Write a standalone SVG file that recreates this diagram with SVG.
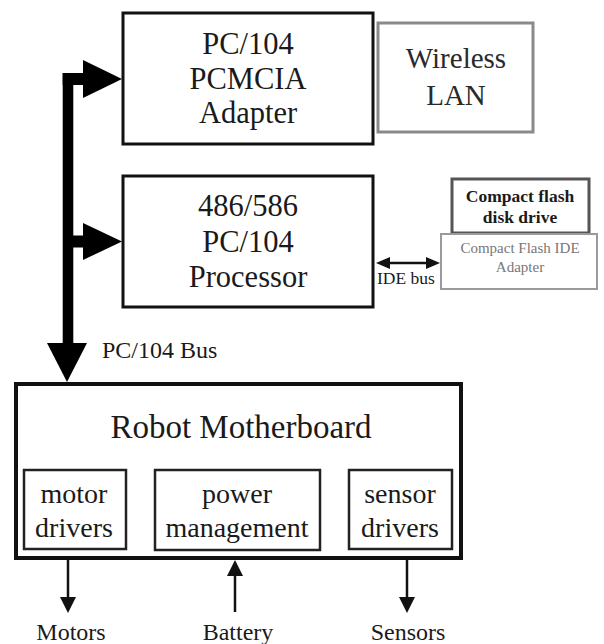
<svg xmlns="http://www.w3.org/2000/svg" width="604" height="644" viewBox="0 0 604 644">
<style>
  .box { fill: #fff; stroke: #111; stroke-width: 3; }
  .gbox { fill: #fff; stroke: #8a8a8a; stroke-width: 3; }
  .sub { fill: #fff; stroke: #222; stroke-width: 2.5; }
  .t { font-family: "Liberation Serif", "Times New Roman", serif; fill: #1a1a1a; text-anchor: middle; }
  .big { font-size: 30.5px; }
  .mid { font-size: 28px; }
  .lbl { font-size: 24px; }
  .ln { stroke: #111; stroke-width: 2.5; fill: none; }
</style>
<defs>
  <marker id="ah" viewBox="0 0 16 16" refX="8" refY="8" markerWidth="16" markerHeight="16" markerUnits="userSpaceOnUse" orient="auto-start-reverse">
    <path d="M0,0 L16,8 L0,16 z" fill="#111"/>
  </marker>
  <marker id="ahs" viewBox="0 0 14 12" refX="7" refY="6" markerWidth="14" markerHeight="12" markerUnits="userSpaceOnUse" orient="auto-start-reverse">
    <path d="M0,0 L14,6 L0,12 z" fill="#111"/>
  </marker>
</defs>

<g id="pcmcia">
  <rect class="box" x="123" y="13" width="250" height="131"/>
  <text class="t big" x="248" y="54">PC/104</text>
  <text class="t big" x="248" y="89">PCMCIA</text>
  <text class="t big" x="248" y="123">Adapter</text>
</g>

<g id="wlan">
  <rect class="gbox" x="378" y="23" width="155" height="109"/>
  <text class="t" style="font-size:29px;fill:#2a2a2a" x="456" y="68">Wireless</text>
  <text class="t" style="font-size:29px;fill:#2a2a2a" x="456" y="105">LAN</text>
</g>

<g id="processor">
  <rect class="box" x="123" y="176" width="250" height="131"/>
  <text class="t big" x="248" y="216">486/586</text>
  <text class="t big" x="248" y="252">PC/104</text>
  <text class="t big" x="248" y="287">Processor</text>
</g>

<g id="cfdrive">
  <rect x="452" y="179" width="137" height="54" fill="#fff" stroke="#555" stroke-width="3"/>
  <text class="t" style="font-size:17.5px;font-weight:bold" x="520" y="202">Compact flash</text>
  <text class="t" style="font-size:17.5px;font-weight:bold" x="520" y="223">disk drive</text>
</g>

<g id="cfadapter">
  <rect x="441" y="234" width="156" height="55" fill="#fff" stroke="#9a9a9a" stroke-width="2"/>
  <text class="t" style="font-size:15px;fill:#777" x="520" y="253">Compact Flash IDE</text>
  <text class="t" style="font-size:15px;fill:#777" x="520" y="272">Adapter</text>
</g>

<g id="motherboard">
  <rect x="16" y="384" width="445" height="174" fill="#fff" stroke="#111" stroke-width="4"/>
  <text class="t" style="font-size:33px" x="241" y="438">Robot Motherboard</text>
</g>

<g id="motor-drivers">
  <rect class="sub" x="24" y="470" width="102" height="79"/>
  <text class="t mid" x="74" y="503">motor</text>
  <text class="t mid" x="74" y="537">drivers</text>
</g>

<g id="power-management">
  <rect class="sub" x="155" y="470" width="165" height="80"/>
  <text class="t mid" x="237" y="503">power</text>
  <text class="t mid" x="237" y="537">management</text>
</g>

<g id="sensor-drivers">
  <rect class="sub" x="349" y="470" width="103" height="79"/>
  <text class="t mid" x="400" y="503">sensor</text>
  <text class="t mid" x="400" y="537">drivers</text>
</g>

<g id="connectors">
  <!-- PC/104 bus -->
  <g fill="#000">
    <rect x="62.7" y="73" width="10.6" height="271"/>
    <rect x="62.7" y="73" width="22" height="12"/>
    <polygon points="83,60 122,79 83,98"/>
    <rect x="68" y="235.5" width="17" height="12"/>
    <polygon points="83,223 122,241.5 83,260"/>
    <polygon points="47,343 87,343 67,382"/>
  </g>
  <text class="t" style="font-size:24px;text-anchor:start" x="102" y="358">PC/104 Bus</text>
  <!-- IDE bus -->
  <line class="ln" x1="383" y1="263" x2="433" y2="263" marker-start="url(#ahs)" marker-end="url(#ahs)"/>
  <text class="t" style="font-size:17.5px;text-anchor:start" x="377" y="284">IDE bus</text>
  <!-- bottom arrows -->
  <line class="ln" x1="68" y1="558" x2="68" y2="605" marker-end="url(#ah)"/>
  <line class="ln" x1="235" y1="612" x2="235" y2="568" marker-end="url(#ah)"/>
  <line class="ln" x1="407" y1="558" x2="407" y2="605" marker-end="url(#ah)"/>
  <text class="t lbl" x="71" y="640">Motors</text>
  <text class="t lbl" x="238" y="640">Battery</text>
  <text class="t lbl" x="408" y="640">Sensors</text>
</g>
</svg>
